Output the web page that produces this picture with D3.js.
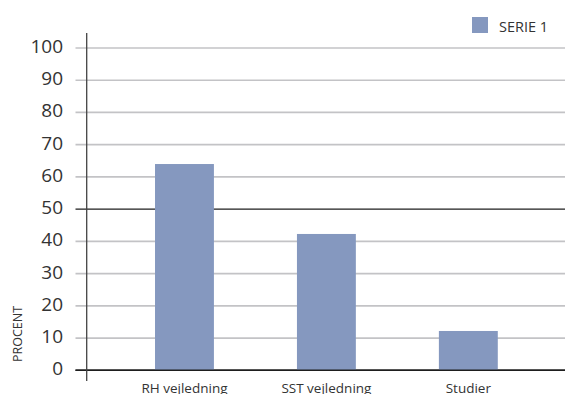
<!DOCTYPE html>
<html>
<head>
<meta charset="utf-8">
<script src="https://cdn.jsdelivr.net/npm/d3@7"></script>
<style>
  html, body { margin: 0; padding: 0; background: #fff; }
  svg { display: block; }
  text { font-family: "Open Sans", "Noto Sans", sans-serif; fill: #333; }
</style>
</head>
<body>
<svg id="chart" width="565" height="394"></svg>
<script>
// Bar data
const categories = ["RH vejledning", "SST vejledning", "Studier"];
const serie1 = [64, 42.3, 12.2];
const yTicks = [0, 10, 20, 30, 40, 50, 60, 70, 80, 90, 100];
const seriesName = "SERIE 1";
const yTitle = "PROCENT";

const W = 565, H = 394;
const svg = d3.select("#chart");

const y = d3.scaleLinear().domain([0, 100]).range([370.3, 48]);
const x = d3.scaleBand()
  .domain(categories)
  .range([113.5, 539.3])
  .paddingInner(0.585)
  .paddingOuter(0.2925);

const barColor = "#8598bf";
const gridLeft = 75.5, gridRight = W;

// Horizontal gridlines (50 and 0 drawn dark)
svg.append("g")
  .selectAll("line")
  .data(yTicks)
  .join("line")
  .attr("x1", gridLeft)
  .attr("x2", gridRight)
  .attr("y1", d => y(d))
  .attr("y2", d => y(d))
  .attr("stroke", d => (d === 50 || d === 0) ? "#1e1e1e" : "#c3c3c6")
  .attr("stroke-width", d => (d === 50 || d === 0) ? 1.4 : 1.7);

// Y tick labels
svg.append("g")
  .selectAll("text")
  .data(yTicks)
  .join("text")
  .attr("x", 63)
  .attr("y", d => y(d) + 5)
  .attr("text-anchor", "end")
  .attr("font-size", 19)
  .text(d => d);

// Bars
svg.append("g")
  .selectAll("rect")
  .data(serie1)
  .join("rect")
  .attr("x", (d, i) => x(categories[i]))
  .attr("width", x.bandwidth())
  .attr("y", d => y(d))
  .attr("height", d => y(0) - y(d))
  .attr("fill", barColor);

// Redraw baseline over the bars
svg.append("line")
  .attr("x1", gridLeft).attr("x2", gridRight)
  .attr("y1", y(0)).attr("y2", y(0))
  .attr("stroke", "#1e1e1e").attr("stroke-width", 1.4);

// Vertical axis line
svg.append("line")
  .attr("x1", 86.7).attr("x2", 86.7)
  .attr("y1", 33).attr("y2", 381)
  .attr("stroke", "#444").attr("stroke-width", 1.3);

// Category labels
svg.append("g")
  .selectAll("text")
  .data(categories)
  .join("text")
  .attr("x", d => x(d) + x.bandwidth() / 2)
  .attr("y", 393)
  .attr("text-anchor", "middle")
  .attr("font-size", 13.5)
  .text(d => d);

// Y axis title
svg.append("text")
  .attr("transform", "translate(22,334) rotate(-90)")
  .attr("text-anchor", "middle")
  .attr("font-size", 12.5)
  .text(yTitle);

// Legend
const lg = svg.append("g").attr("transform", "translate(472,17)");
lg.append("rect").attr("width", 16).attr("height", 16).attr("fill", barColor);
lg.append("text")
  .attr("x", 27)
  .attr("y", 14.5)
  .attr("font-size", 14.5)
  .text(seriesName);
</script>
</body>
</html>
